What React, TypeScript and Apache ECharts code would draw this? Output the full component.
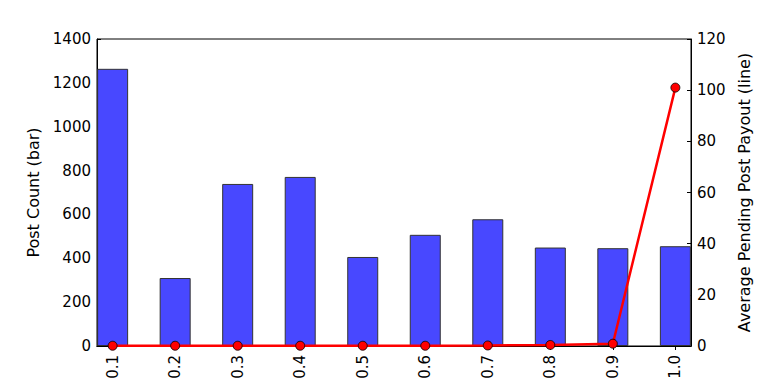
import React, { useEffect, useRef } from "react";
import * as echarts from "echarts";

const categories = [0.1, 0.2, 0.3, 0.4, 0.5, 0.6, 0.7, 0.8, 0.9, 1.0];
const tickLabels = ["0.1", "0.2", "0.3", "0.4", "0.5", "0.6", "0.7", "0.8", "0.9", "1.0"];
const postCounts = [1264, 310, 739, 771, 406, 507, 578, 449, 446, 455];
const avgPayout = [0.1, 0.1, 0.1, 0.1, 0.1, 0.1, 0.2, 0.4, 0.9, 101];
const leftTicks = [0, 200, 400, 600, 800, 1000, 1200, 1400];
const rightTicks = [0, 20, 40, 60, 80, 100, 120];

const FONT = "DejaVu Sans";

export default function App() {
  const ref = useRef<HTMLDivElement>(null);
  useEffect(() => {
    if (!ref.current) return;
    const chart = echarts.init(ref.current, null, { renderer: "svg" });
    const labelMap: Record<string, string> = {};
    categories.forEach((c, i) => (labelMap[String(c)] = tickLabels[i]));
    chart.setOption({
      animation: false,
      backgroundColor: "#ffffff",
      textStyle: { fontFamily: FONT },
      grid: {
        left: 97,
        right: 77,
        top: 39,
        bottom: 38,
        show: true,
        borderColor: "#000",
        borderWidth: 1,
        backgroundColor: "transparent",
      },
      xAxis: [
        {
          type: "value",
          min: 0.075,
          max: 1.025,
          splitLine: { show: false },
          axisLine: { show: true, onZero: false, lineStyle: { color: "#000", width: 1 } },
          axisTick: {
            show: true,
            inside: true,
            length: 4,
            customValues: categories,
            lineStyle: { color: "#000" },
          },
          axisLabel: {
            customValues: categories,
            rotate: 90,
            margin: 9,
            fontSize: 15,
            fontFamily: FONT,
            color: "#000",
            formatter: (v: number) => labelMap[String(v)] ?? v.toFixed(1),
          },
        },
        {
          type: "value",
          position: "top",
          min: 0.075,
          max: 1.025,
          splitLine: { show: false },
          axisLine: { show: true, lineStyle: { color: "#000", width: 1 } },
          axisTick: {
            show: true,
            inside: true,
            length: 4,
            customValues: categories,
            lineStyle: { color: "#000" },
          },
          axisLabel: { show: false },
        },
      ],
      yAxis: [
        {
          type: "value",
          min: 0,
          max: 1400,
          interval: 200,
          name: "Post Count (bar)",
          nameLocation: "middle",
          nameGap: 50,
          nameTextStyle: { fontSize: 16, fontFamily: FONT, color: "#000" },
          splitLine: { show: false },
          axisLine: { show: true, lineStyle: { color: "#000", width: 1 } },
          axisTick: { show: true, inside: true, length: 4, lineStyle: { color: "#000" } },
          axisLabel: {
            fontSize: 15,
            fontFamily: FONT,
            color: "#000",
            margin: 6,
            customValues: leftTicks,
            formatter: (v: number) => String(v),
          },
        },
        {
          type: "value",
          min: 0,
          max: 120,
          interval: 20,
          position: "right",
          name: "Average Pending Post Payout (line)",
          nameLocation: "middle",
          nameGap: 40,
          nameRotate: 90,
          nameTextStyle: { fontSize: 16, fontFamily: FONT, color: "#000" },
          splitLine: { show: false },
          axisLine: { show: true, lineStyle: { color: "#000", width: 1 } },
          axisTick: { show: true, inside: true, length: 4, lineStyle: { color: "#000" } },
          axisLabel: {
            fontSize: 15,
            fontFamily: FONT,
            color: "#000",
            margin: 6,
            customValues: rightTicks,
            formatter: (v: number) => String(v),
          },
        },
      ],
      series: [
        {
          type: "bar",
          xAxisIndex: 0,
          yAxisIndex: 0,
          barWidth: 31,
          data: categories.map((c, i) => [c, postCounts[i]]),
          itemStyle: { color: "#4848ff", borderColor: "#333333", borderWidth: 1 },
        },
        {
          type: "line",
          xAxisIndex: 0,
          yAxisIndex: 1,
          data: categories.map((c, i) => [c, avgPayout[i]]),
          symbol: "circle",
          symbolSize: 9,
          lineStyle: { color: "#ff0000", width: 2.5 },
          itemStyle: { color: "#ff0000", borderColor: "#000", borderWidth: 0.8 },
          z: 5,
        },
      ],
    });
    return () => chart.dispose();
  }, []);
  return (
    <div
      ref={ref}
      style={{ position: "fixed", left: 0, top: 0, width: 768, height: 384 }}
    />
  );
}
